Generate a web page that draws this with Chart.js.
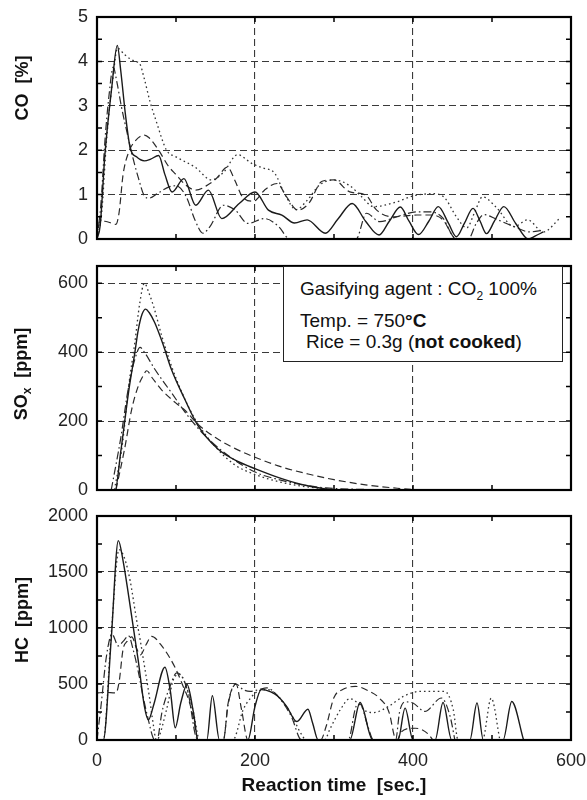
<!DOCTYPE html>
<html><head><meta charset="utf-8">
<script src="https://cdn.jsdelivr.net/npm/chart.js@4/dist/chart.umd.min.js"></script>
<style>
body{margin:0;background:#fff;width:587px;height:800px;position:relative;overflow:hidden;font-family:"Liberation Sans",Arial,sans-serif;color:#111;}
canvas{position:absolute;left:0;}
.yt{position:absolute;left:22px;font-weight:bold;font-size:18px;white-space:nowrap;transform:translate(-50%,-50%) rotate(-90deg);}
.yt sub{font-size:12px;vertical-align:-4px;}
.xt{position:absolute;left:334px;top:785px;font-weight:bold;font-size:19px;white-space:nowrap;transform:translate(-50%,-50%);}
#box{position:absolute;left:283px;top:266px;width:278px;height:94px;background:#fff;border:1px solid #222;z-index:5;}
.ln{position:absolute;font-size:19px;white-space:nowrap;line-height:1;}
.ln sub{font-size:12px;vertical-align:-5px;}
</style>
</head><body>
<canvas id="c1" width="587" height="250" style="top:0"></canvas>
<canvas id="c2" width="587" height="250" style="top:250px"></canvas>
<canvas id="c3" width="587" height="300" style="top:500px"></canvas>
<div class="yt" style="top:88px">CO&nbsp;&nbsp;[%]</div>
<div class="yt" style="top:374px">SO<sub>x</sub>&nbsp;&nbsp;[ppm]</div>
<div class="yt" style="top:620px">HC&nbsp;&nbsp;[ppm]</div>
<div class="xt">Reaction time&nbsp;&nbsp;[sec.]</div>
<div id="box">
  <div class="ln" style="left:16px;top:12px">Gasifying agent : CO<sub>2</sub> 100%</div>
  <div class="ln" style="left:16px;top:44px">Temp. = 750<b>°C</b></div>
  <div class="ln" style="left:22px;top:65px">Rice = 0.3g (<b>not cooked</b>)</div>
</div>
<script>
// ---- tick values ----
const xTicks = [0, 200, 400, 600];
const xMinor = [100, 200, 300, 400, 500];
const coTicks = [0, 1, 2, 3, 4, 5];
const coMinor = [0.5, 1, 1.5, 2, 2.5, 3, 3.5, 4, 4.5];
const soxTicks = [0, 200, 400, 600];
const soxMinor = [100, 200, 300, 400, 500, 600];
const hcTicks = [0, 500, 1000, 1500, 2000];
const hcMinor = [250, 500, 750, 1000, 1250, 1500, 1750];

// ---- CO [%] ----
const coSolid = [[0,0],[4,0.3],[10,1.9],[18.6,3.4],[25.7,4.36],[30,3.8],[36,2.8],[42,2.05],[50,1.85],[60,1.76],[68,1.8],[78,1.88],[86,1.45],[95,1.06],[110,1.36],[125,0.76],[141,1.1],[158,0.46],[180,0.8],[200,1.06],[217,0.65],[234,0.54],[250,0.36],[266,0.43],[289,0.13],[305,0.45],[323,0.8],[340,0.4],[357,0.09],[370,0.4],[384,0.72],[395,0.4],[407,0.1],[420,0.4],[432,0.73],[445,0.35],[455,0.05],[465,0.35],[476,0.69],[485,0.4],[493,0.12],[503,0.4],[515,0.73],[530,0.35],[546,0],[555,0.07],[565,0.16]];
const coDotted = [[0,0],[6,0.6],[12,2.2],[20,3.6],[26,4.3],[35,4.15],[48,4.0],[54,3.95],[60,3.6],[67,3.1],[75,2.65],[88,2.0],[100,1.85],[124,1.62],[145,1.33],[160,1.5],[178,1.9],[196,1.7],[210,1.6],[225,1.48],[238,1.0],[252,0.66],[265,0.85],[282,1.22],[300,1.33],[320,1.2],[335,0.95],[350,0.73],[380,0.84],[400,0.97],[426,1.02],[440,0.93],[455,0.5],[468,0.25],[478,0.6],[488,0.95],[505,0.72],[528,0.28],[545,0.43],[565,0.16],[586,0.47]];
const coDashed = [[0,0],[3,0.38],[10,0.4],[24,0.33],[28,0.6],[33,1.45],[40,1.95],[48,2.2],[60,2.34],[66,2.28],[78,2.0],[90,1.65],[100,1.45],[112,1.22],[125,1.1],[143,1.25],[152,1.38],[165,1.62],[175,1.3],[184,0.95],[198,0.85],[212,1.1],[228,1.25],[240,0.95],[254,0.65],[268,0.8],[285,1.3],[300,1.33],[320,1.06],[340,0.99],[354,0.65],[375,0.5],[405,0.54],[422,0.54],[438,0.43],[451,0.05],[455,0]];
const coDashDot = [[0,0],[5,0.8],[10,2.2],[15,3.2],[20.6,3.87],[25,3.55],[31,2.97],[38,2.4],[44,1.93],[52,1.4],[60,0.97],[66,0.92],[77,1.03],[92,1.18],[100,1.2],[113,0.95],[124,0.43],[134,0.13],[143,0.28],[160,0.76],[175,0.65],[191,0.35],[212,0.46],[230,0.28],[242,0.02],[250,0],[328,0],[341,0.58],[358,0.39],[379,0.5],[405,0.61],[422,0.61],[438,0.47],[451,0.05],[458,0],[470,0],[480,0.35],[490,0.55],[505,0.45],[525,0.3],[548,0.16],[565,0.2]];

// ---- SOx [ppm] ----
const soxSolid = [[20,0],[23,0],[30,110],[40,285],[48,400],[52,462],[57,510],[61.6,525],[66,515],[73,486],[84,420],[94,351],[111,264],[128,186],[153,119],[179,82],[200,62],[230,36],[259,16],[289,3],[300,0]];
const soxDotted = [[22,0],[32,130],[40,300],[48,430],[54,540],[60,600],[66,570],[72,530],[82,447],[95,355],[108,280],[124,206],[150,125],[175,72],[200,45],[230,24],[260,11],[290,3],[300,0]];
const soxDashed = [[24,0],[35,120],[44,235],[52,300],[58,330],[63,346],[70,325],[82,290],[100,252],[111,232],[128,190],[150,152],[175,120],[200,95],[235,66],[270,45],[300,30],[340,15],[380,5],[405,0]];
const soxDashDot = [[18,0],[30,150],[40,300],[48,380],[54.5,414],[60,400],[73,351],[94,283],[115,215],[137,157],[166,100],[200,52],[230,30],[260,15],[290,6],[330,2],[390,0]];

// ---- HC [ppm] ----
const hcSolid = [[0,0],[8,0],[18,900],[27,1780],[33,1600],[40,1290],[52,720],[60,300],[65,180],[72,320],[86,650],[93,430],[99,110],[106,330],[114,495],[122,250],[128,0],[139,0],[146,395],[155,0],[191,0],[200,300],[208,450],[220,430],[229,390],[240,300],[253,165],[267,275],[273,150],[280,0],[320,0],[333,335],[349,0],[381,0],[390,285],[400,0],[428,0],[438,335],[449,0],[472,0],[481,330],[489,0],[514,0],[525,344],[540,0]];
const hcDotted = [[0,0],[8,0],[18,950],[28,1700],[35,1620],[42,1420],[50,1077],[55,880],[61,620],[66,400],[71,150],[75,0],[78,20],[88,270],[98,560],[105,585],[112,500],[122,250],[130,0],[172,0],[185,270],[195,380],[205,440],[215,450],[228,400],[245,240],[258,60],[265,0],[288,0],[295,100],[308,270],[320,370],[330,330],[341,255],[350,245],[369,300],[388,390],[409,434],[440,434],[451,270],[457,0],[488,0],[499,374],[510,0]];
const hcDashed = [[0,420],[10,425],[24,420],[28,520],[33,810],[38,880],[44,920],[50,820],[55,760],[62,850],[69,925],[82,840],[99,645],[109,480],[116,360],[122,200],[128,0],[160,0],[166,330],[176,500],[183,270],[191,0],[283,0],[290,120],[300,380],[311,450],[327,479],[345,434],[358,370],[370,240],[377,20],[380,0],[384,60],[392,100],[403,105],[412,90],[421,40],[425,0]];
const hcDashDot = [[0,0],[5,300],[12,750],[19,945],[27,840],[33,880],[40,930],[46,800],[52,620],[58,400],[65,180],[71,20],[74,0],[77,20],[82,240],[92,470],[101,600],[108,560],[116,400],[124,60],[128,0],[160,0],[166,320],[176,500],[185,450],[194,434],[205,450],[215,465],[229,390],[246,210],[259,0],[318,0],[328,300],[333,320],[343,120],[350,0],[378,0],[383,250],[390,340],[400,330],[415,255],[436,375],[447,210],[453,0]];

const STY = {
  solid:   {dash: [],             width: 1.4, color: '#1a1a1a'},
  dashed:  {dash: [7, 4],         width: 1.2, color: '#2a2a2a'},
  dotted:  {dash: [1.6, 3],       width: 1.3, color: '#333'},
  dashdot: {dash: [8, 3, 1.6, 3], width: 1.2, color: '#2a2a2a'}
};

function ds(pts, s) {
  const st = STY[s];
  return {
    data: pts.map(p => ({x: p[0], y: p[1]})),
    borderColor: st.color, borderWidth: st.width, borderDash: st.dash,
    pointRadius: 0, fill: false, cubicInterpolationMode: 'monotone', tension: 0.4
  };
}

function makeFrame(minX, minY) {
  return {
    id: 'plotFrame',
    afterDraw(chart) {
      const ctx = chart.ctx, a = chart.chartArea;
      const sx = chart.scales.x, sy = chart.scales.y;
      ctx.save();
      ctx.setLineDash([]);
      ctx.strokeStyle = '#000';
      ctx.lineWidth = 2.2;
      ctx.strokeRect(a.left, a.top, a.right - a.left, a.bottom - a.top);
      ctx.lineWidth = 1.5;
      ctx.beginPath();
      for (const v of minX) {
        const px = sx.getPixelForValue(v);
        ctx.moveTo(px, a.bottom); ctx.lineTo(px, a.bottom - 5);
        ctx.moveTo(px, a.top); ctx.lineTo(px, a.top + 5);
      }
      for (const v of minY) {
        const py = sy.getPixelForValue(v);
        ctx.moveTo(a.left, py); ctx.lineTo(a.left + 5, py);
        ctx.moveTo(a.right, py); ctx.lineTo(a.right - 5, py);
      }
      ctx.stroke();
      ctx.restore();
    }
  };
}

const tickFont = {family: '"Liberation Sans", Arial, sans-serif', size: 18};

function panel(id, datasets, yMax, yTicks, yMinor, padTop, xHeight, showX) {
  return new Chart(document.getElementById(id), {
    type: 'line',
    data: {datasets},
    plugins: [makeFrame(xMinor, yMinor)],
    options: {
      responsive: false, animation: false,
      layout: {padding: {left: 0, right: 16, top: padTop, bottom: 0}},
      plugins: {legend: {display: false}, tooltip: {enabled: false}},
      scales: {
        x: {
          type: 'linear', min: 0, max: 600,
          afterBuildTicks: s => { s.ticks = xTicks.map(v => ({value: v})); },
          afterFit: s => { s.height = xHeight; s.paddingLeft = 0; s.paddingRight = 0; },
          grid: {color: '#3a3a3a', lineWidth: 1.1, drawTicks: false},
          border: {display: false, dash: [7, 4]},
          ticks: {display: showX, font: tickFont, color: '#222', padding: 10, maxRotation: 0, autoSkip: false,
                  callback: v => String(v)}
        },
        y: {
          type: 'linear', min: 0, max: yMax,
          afterBuildTicks: s => { s.ticks = yTicks.map(v => ({value: v})); },
          afterFit: s => { s.width = 97; s.paddingTop = 0; s.paddingBottom = 0; },
          grid: {color: '#3a3a3a', lineWidth: 1.1, drawTicks: false},
          border: {display: false, dash: [7, 4]},
          ticks: {font: tickFont, color: '#222', padding: 9, callback: v => String(v)}
        }
      }
    }
  });
}

panel('c1', [ds(coSolid,'solid'), ds(coDashed,'dashed'), ds(coDotted,'dotted'), ds(coDashDot,'dashdot')],
      5, coTicks, coMinor, 17, 11, false);
panel('c2', [ds(soxSolid,'solid'), ds(soxDashed,'dashed'), ds(soxDotted,'dotted'), ds(soxDashDot,'dashdot')],
      650, soxTicks, soxMinor, 16, 10, false);
panel('c3', [ds(hcSolid,'solid'), ds(hcDashed,'dashed'), ds(hcDotted,'dotted'), ds(hcDashDot,'dashdot')],
      2000, hcTicks, hcMinor, 16, 60, true);
</script>
</body></html>
